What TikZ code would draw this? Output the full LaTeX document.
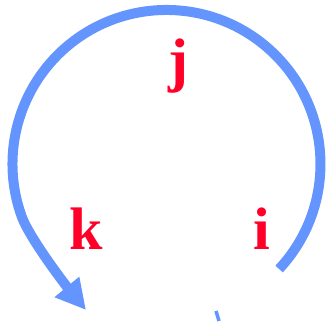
\documentclass[tikz,border=0pt]{standalone}
\usepackage{fontspec}
\setmainfont{Liberation Serif}
\usetikzlibrary{arrows.meta}
\definecolor{loopblue}{RGB}{100,149,255}
\definecolor{lblred}{RGB}{255,0,40}

\begin{document}
\begin{tikzpicture}[x=1pt,y=1pt,>=Stealth,
  lbl/.style={text=lblred,font=\fontsize{60}{60}\selectfont\bfseries,anchor=base,inner sep=0pt}]
\useasboundingbox (0,0) rectangle (327,329);
\node[lbl] (j) at (178,248) {j};
\node[lbl] (k) at (86,79) {k};
\node[lbl] (i) at (262,79) {i};
\coordinate (start) at (279.1,60.0);
\coordinate (turn) at (21.8,112.3);
\coordinate (tip) at (86,19);
\draw[loopblue,line width=10pt,-{Triangle[length=30pt,width=30pt]}]
  (start) arc[start angle=-43,end angle=200,radius=154]
  .. controls (30.4,88.8) and (70,38.3) .. (tip);
\coordinate (t1) at (216,18);
\coordinate (t2) at (219,8);
\draw[loopblue,line width=3.5pt] (t1) -- (t2);
\end{tikzpicture}
\end{document}
